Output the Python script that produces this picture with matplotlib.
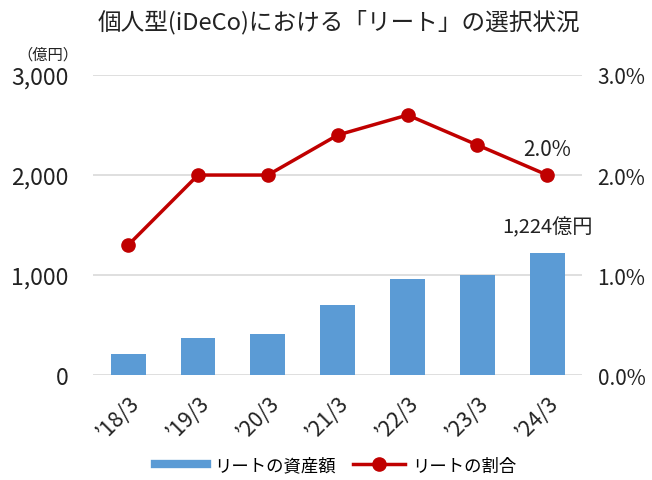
import matplotlib
matplotlib.use("Agg")
import matplotlib.pyplot as plt
from matplotlib.lines import Line2D
import numpy as np

plt.rcParams['font.family'] = ['Noto Sans CJK JP', 'DejaVu Sans']

labels = ["\u201918/3", "\u201919/3", "\u201920/3", "\u201921/3", "\u201922/3", "\u201923/3", "\u201924/3"]
assets = [210, 367, 413, 700, 957, 1000, 1224]   # 億円
share = [1.3, 2.0, 2.0, 2.4, 2.6, 2.3, 2.0]      # %

x = np.arange(len(labels))

fig = plt.figure(figsize=(6.52, 4.81), dpi=100)
ax = fig.add_axes([0.143, 0.218, 0.75, 0.624])
ax2 = ax.twinx()

ax.set_axisbelow(True)
ax.yaxis.grid(True, color='#D9D9D9', linewidth=1.2)
ax.bar(x, assets, width=0.5, color='#5B9BD5', label='リートの資産額', zorder=2)
ax2.plot(x, share, color='#C00000', linewidth=2.5, marker='o', markersize=9.5,
         label='リートの割合', zorder=3)

ax.set_xlim(-0.5, len(labels) - 0.5)
ax.set_ylim(0, 3000)
ax2.set_ylim(0, 3.0)
ax.set_yticks([0, 1000, 2000, 3000])
ax.set_yticklabels([f'{v:,}' for v in [0, 1000, 2000, 3000]])
ax2.set_yticks([0, 1, 2, 3])
ax2.set_yticklabels([f'{v:.1f}%' for v in [0, 1, 2, 3]])

for a in (ax, ax2):
    for s in a.spines.values():
        s.set_visible(False)
    a.tick_params(length=0, labelsize=16.5, colors='#222222')
ax.tick_params(axis='y', pad=18)
ax2.tick_params(axis='y', pad=11, labelsize=15)

ax.set_xticks(x)
ax.set_xticklabels(labels, rotation=45, ha='right', rotation_mode='anchor', fontsize=15.5)
ax.tick_params(axis='x', pad=12)

ax.annotate(f'{assets[-1]:,}億円', (x[-1], assets[-1]), xytext=(0, 11),
            textcoords='offset points', ha='center', va='bottom', fontsize=14.5,
            color='#222222')
ax2.annotate(f'{share[-1]:.1f}%', (x[-1], share[-1]), xytext=(0, 11),
             textcoords='offset points', ha='center', va='bottom', fontsize=15,
             color='#222222')

fig.text(0.52, 0.955, '個人型(iDeCo)における「リート」の選択状況', ha='center', va='center',
         fontsize=17, color='#222222')
fig.text(0.074, 0.886, '（億円）', ha='center', va='center', fontsize=11, color='#222222')

h1, l1 = ax.get_legend_handles_labels()
h2, l2 = ax2.get_legend_handles_labels()
h1 = [Line2D([0], [0], color='#5B9BD5', linewidth=6)]
fig.legend(h1 + h2, l1 + l2, loc='center', bbox_to_anchor=(0.515, 0.03), ncol=2,
           frameon=False, fontsize=12.5, handlelength=3.0, columnspacing=1.0,
           handletextpad=0.4)

fig.savefig('out.png', dpi=100)
